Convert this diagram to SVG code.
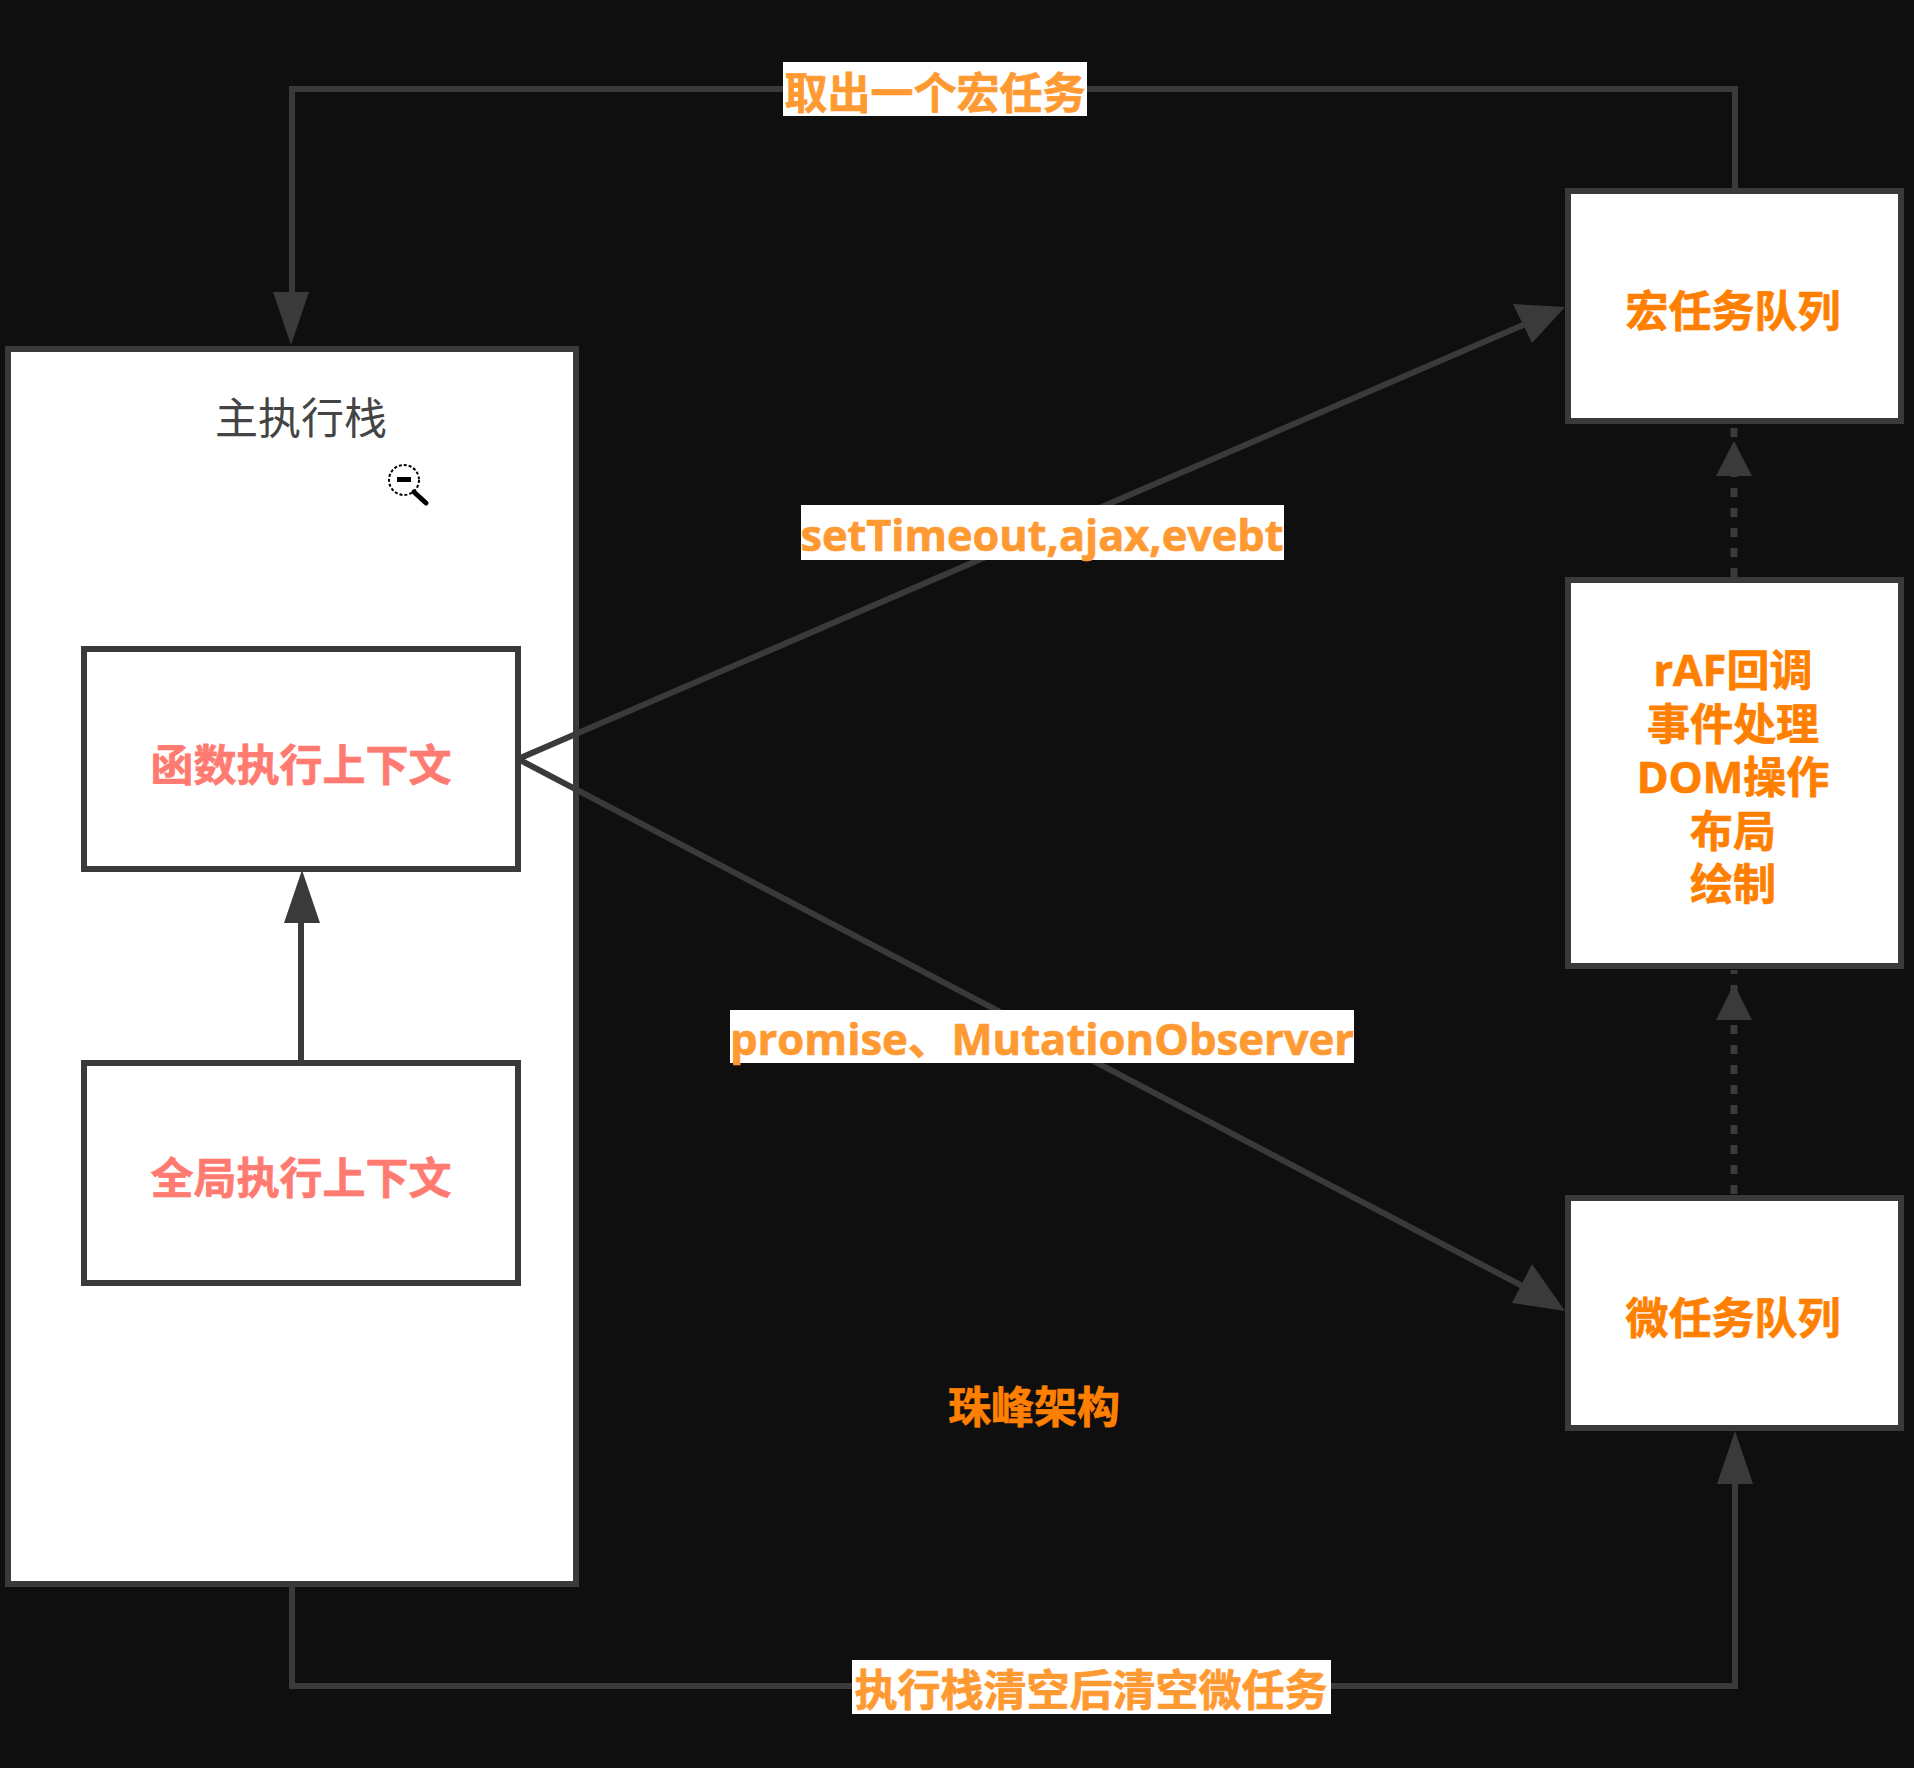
<svg xmlns="http://www.w3.org/2000/svg" width="1914" height="1768" viewBox="0 0 1914 1768">
<defs>
<style>
.box{fill:#fff;stroke:#3a3a3a;stroke-width:6}
.edge{fill:none;stroke:#3a3a3a;stroke-width:6}
.dash{stroke-width:7;stroke-dasharray:9 11}
.head{fill:#3a3a3a}
.lab{fill:#fff}
text{font-family:"Open Sans","Noto Sans CJK SC",sans-serif;font-size:43px;font-weight:700;text-anchor:middle;stroke-width:.7}
.o{fill:#ff8000;stroke:#ff8000}
.lo{fill:#ff9a33;stroke:#ff9a33}
.r{fill:#ff7a70;stroke:#ff7a70}
.n{fill:#444;font-weight:400;stroke:none}
</style>
</defs>
<rect width="1914" height="1768" fill="#0f0f10"/>
<g id="n-main"><rect class="box" x="8" y="349" width="568" height="1235"/><text class="n" x="301" y="434">主执行栈</text></g>
<g id="n-func"><rect class="box" x="84" y="649" width="434" height="220"/><text class="r" x="301" y="781">函数执行上下文</text></g>
<g id="n-global"><rect class="box" x="84" y="1063" width="434" height="220"/><text class="r" x="301" y="1194">全局执行上下文</text></g>
<g id="n-macro"><rect class="box" x="1568" y="191" width="333" height="230"/><text class="o" x="1733" y="327">宏任务队列</text></g>
<g id="n-render"><rect class="box" x="1568" y="580" width="333" height="386"/><text class="o" x="1733"><tspan x="1733" y="686">rAF回调</tspan><tspan x="1733" y="740">事件处理</tspan><tspan x="1733" y="793">DOM操作</tspan><tspan x="1733" y="847">布局</tspan><tspan x="1733" y="900">绘制</tspan></text></g>
<g id="n-micro"><rect class="box" x="1568" y="1198" width="333" height="230"/><text class="o" x="1733" y="1334">微任务队列</text></g>
<g id="connectors">
<path class="edge" d="M1735 188V89H292V300"/><polygon class="head" points="291,345 273,292 309,292"/>
<path class="edge" d="M292 1587V1686H1735V1480"/><polygon class="head" points="1735,1431 1717,1484 1753,1484"/>
<path class="edge" d="M301 1062V915"/><polygon class="head" points="302,870 284,923 320,923"/>
<path class="edge" d="M518 759L1530 322"/><polygon class="head" points="1565,307 1532,343 1513,304"/>
<path class="edge" d="M518 759L1530 1290"/><polygon class="head" points="1565,1311 1512,1303 1532,1264"/>
<path class="edge dash" d="M1734 577V426"/><polygon class="head" points="1734,441 1716,476 1752,476"/>
<path class="edge dash" d="M1734 1194V970"/><polygon class="head" points="1734,984 1716,1020 1752,1020"/>
</g>
<g id="l-take"><rect class="lab" x="783" y="62" width="304" height="54"/><text class="lo" x="935" y="109">取出一个宏任务</text></g>
<g id="l-macro"><rect class="lab" x="801" y="505" width="483" height="55"/><text class="lo" x="1042" y="551" textLength="483" lengthAdjust="spacingAndGlyphs">setTimeout,ajax,evebt</text></g>
<g id="l-micro"><rect class="lab" x="730" y="1010" width="624" height="53"/><text class="lo" x="1042" y="1055" textLength="624" lengthAdjust="spacingAndGlyphs">promise、MutationObserver</text></g>
<g id="l-clear"><rect class="lab" x="852" y="1660" width="479" height="54"/><text class="lo" x="1091" y="1706">执行栈清空后清空微任务</text></g>
<g id="l-brand"><text class="o" x="1034" y="1423">珠峰架构</text></g>
<g id="cursor"><circle cx="404" cy="480" r="15" fill="#fff" stroke="#000" stroke-width="2" stroke-dasharray="3 2"/><rect x="397" y="477" width="14" height="5"/><path d="M414 492L426 503" stroke="#000" stroke-width="5" stroke-linecap="round"/></g>
</svg>
